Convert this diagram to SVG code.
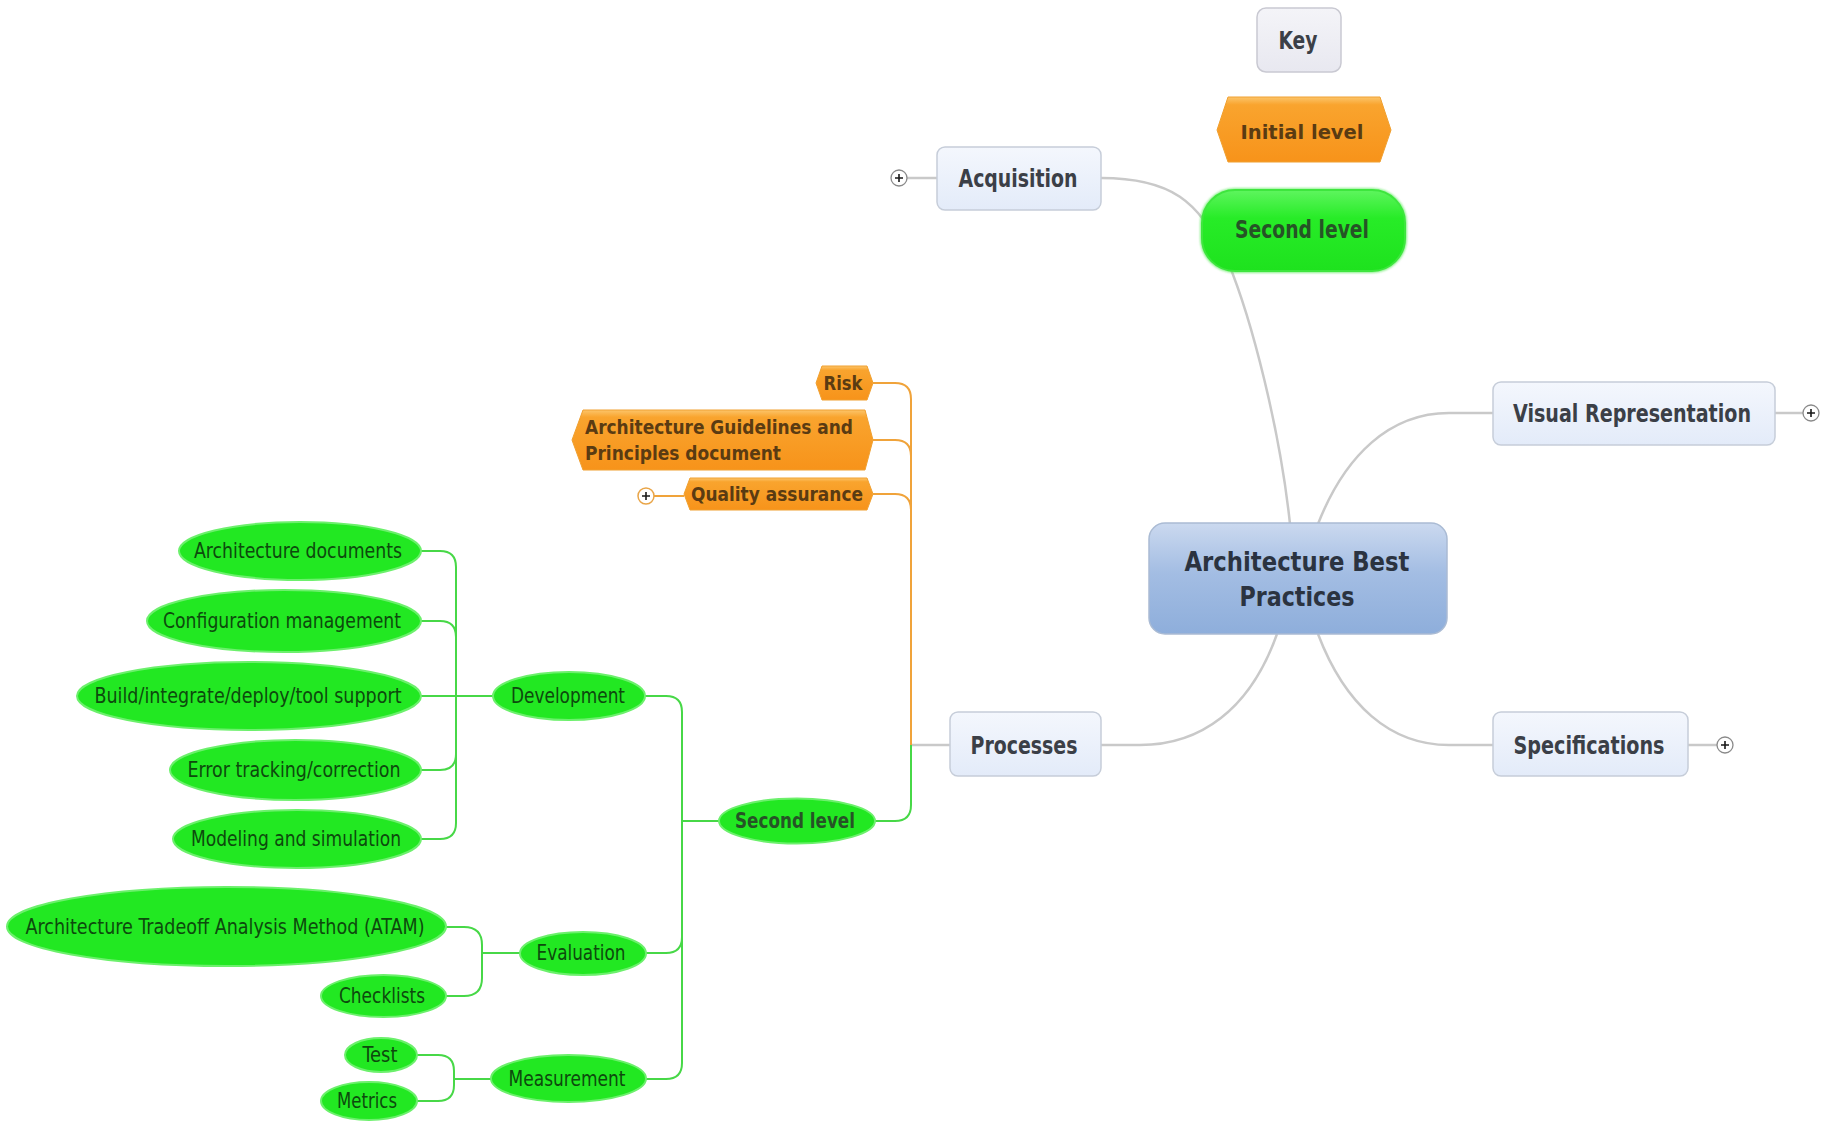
<svg xmlns="http://www.w3.org/2000/svg" width="1825" height="1125" viewBox="0 0 1825 1125">
<defs>
<linearGradient id="gBox" x1="0" y1="0" x2="0" y2="1"><stop offset="0" stop-color="#f4f7fd"/><stop offset="1" stop-color="#e3ebf9"/></linearGradient>
<linearGradient id="gKey" x1="0" y1="0" x2="0" y2="1"><stop offset="0" stop-color="#f4f4f8"/><stop offset="1" stop-color="#e8e8f0"/></linearGradient>
<linearGradient id="gCen" x1="0" y1="0" x2="0" y2="1"><stop offset="0" stop-color="#cbd9ef"/><stop offset="0.45" stop-color="#a3bde3"/><stop offset="1" stop-color="#8eaedb"/></linearGradient>
<linearGradient id="gOr" x1="0" y1="0" x2="0" y2="1"><stop offset="0" stop-color="#fcc56a"/><stop offset="0.12" stop-color="#f9a42e"/><stop offset="1" stop-color="#f7931a"/></linearGradient>
<linearGradient id="gGr" x1="0" y1="0" x2="0" y2="1"><stop offset="0" stop-color="#5ef55e"/><stop offset="0.35" stop-color="#27ec27"/><stop offset="1" stop-color="#1ee21e"/></linearGradient>
<filter id="glow" x="-10%" y="-20%" width="120%" height="140%"><feGaussianBlur stdDeviation="1.2"/></filter>
</defs>
<style>
.box{fill:url(#gBox);stroke:#c6cdd9;stroke-width:1.5}
.key{fill:url(#gKey);stroke:#c9c9d2;stroke-width:1.5}
.cen{fill:url(#gCen);stroke:#aabbd4;stroke-width:1.5}
.or{fill:url(#gOr);stroke:#f0a030;stroke-width:1}
.gr{fill:#22e822;stroke:#6cf06c;stroke-width:2}
.gbig{fill:url(#gGr);stroke:#3ee63e;stroke-width:2}
.t{font-family:"DejaVu Sans Condensed","DejaVu Sans",sans-serif;font-weight:bold;fill:#3b3f47;text-anchor:middle}
.tc{font-family:"DejaVu Sans Condensed","DejaVu Sans",sans-serif;font-weight:bold;fill:#2b3340;text-anchor:middle;font-size:26px}
.to{font-family:"DejaVu Sans Condensed","DejaVu Sans",sans-serif;font-weight:bold;fill:#5a3b12;font-size:20px}
.tg{font-family:"DejaVu Sans Condensed","DejaVu Sans",sans-serif;fill:#0d4a0d;text-anchor:middle;font-size:20.5px}
.tgb{font-family:"DejaVu Sans Condensed","DejaVu Sans",sans-serif;font-weight:bold;fill:#265326;text-anchor:middle}
.lg{fill:none;stroke:#c9c9c9;stroke-width:2.5}
.lo{fill:none;stroke:#f0a33a;stroke-width:2}
.lgr{fill:none;stroke:#47d847;stroke-width:2}
.pc{fill:#fff;stroke:#8a8a8a;stroke-width:1.3}
.pco{fill:#fff;stroke:#e9a548;stroke-width:1.5}
.pp{stroke:#1a1a1a;stroke-width:1.6}
</style>

<g id="connectors">
<path class="lg" d="M1101 178 C1170 178 1200 200 1228 262 C1252 320 1280 430 1290 524"/>
<path class="lg" d="M1318 524 C1345 455 1390 413 1449 413 H1493"/>
<path class="lg" d="M1318 634 C1345 705 1390 745 1449 745 H1493"/>
<path class="lg" d="M1277 634 C1250 710 1200 745 1140 745 H1101"/>
<path class="lg" d="M911 745 H950"/>
<path class="lg" d="M907 178 H937"/>
<path class="lg" d="M1775 413 H1803"/>
<path class="lg" d="M1688 745 H1717"/>
<path class="lo" d="M873 383 H895 Q911 383 911 399 V745"/>
<path class="lo" d="M873 440 H895 Q911 440 911 456 V745"/>
<path class="lo" d="M873 494 H895 Q911 494 911 510 V745"/>
<path class="lo" d="M654 496 H684"/>
<path class="lgr" d="M875 821 H895 Q911 821 911 805 V745"/>
<path class="lgr" d="M645 696 H666 Q682 696 682 712 V821 H719"/>
<path class="lgr" d="M646 953 H666 Q682 953 682 937 V821"/>
<path class="lgr" d="M646 1079 H666 Q682 1079 682 1063 V821"/>
<path class="lgr" d="M421 551 H440 Q456 551 456 567 V696 H493"/>
<path class="lgr" d="M421 621 H440 Q456 621 456 637 V696"/>
<path class="lgr" d="M421 696 H456"/>
<path class="lgr" d="M421 770 H440 Q456 770 456 754 V696"/>
<path class="lgr" d="M421 839 H440 Q456 839 456 823 V696"/>
<path class="lgr" d="M446 927 H464 Q482 927 482 945 V953 H520"/>
<path class="lgr" d="M446 996 H464 Q482 996 482 978 V953"/>
<path class="lgr" d="M417 1055 H438 Q454 1055 454 1071 V1079 H491"/>
<path class="lgr" d="M417 1101 H438 Q454 1101 454 1085 V1079"/>
</g>

<g id="key">
<rect class="key" x="1257" y="8" width="84" height="64" rx="9"/>
<text class="t" x="1298" y="49" font-size="24" textLength="39" lengthAdjust="spacingAndGlyphs">Key</text>
</g>
<g id="key-initial">
<path class="or" d="M1228 97 H1380 L1391 130 L1380 162 H1228 L1217 130 Z"/>
<text class="to" x="1302" y="139" font-size="24" text-anchor="middle" textLength="123" lengthAdjust="spacingAndGlyphs">Initial level</text>
</g>
<g id="key-second">
<rect class="gbig" x="1201" y="189" width="205" height="83" rx="34" filter="url(#glow)" opacity="0.6"/>
<rect class="gbig" x="1202" y="190" width="203" height="81" rx="33"/>
<text class="tgb" x="1302" y="238" font-size="24" textLength="134" lengthAdjust="spacingAndGlyphs">Second level</text>
</g>

<g id="central">
<rect class="cen" x="1149" y="523" width="298" height="111" rx="16"/>
<text class="tc" x="1297" y="571" textLength="225" lengthAdjust="spacingAndGlyphs">Architecture Best</text>
<text class="tc" x="1297" y="606" textLength="115" lengthAdjust="spacingAndGlyphs">Practices</text>
</g>

<g id="acquisition">
<rect class="box" x="937" y="147" width="164" height="63" rx="8"/>
<text class="t" x="1018" y="187" font-size="24" textLength="119" lengthAdjust="spacingAndGlyphs">Acquisition</text>
<circle class="pc" cx="899" cy="178" r="8"/>
<path class="pp" d="M895 178 H903 M899 174 V182"/>
</g>

<g id="visual">
<rect class="box" x="1493" y="382" width="282" height="63" rx="8"/>
<text class="t" x="1632" y="422" font-size="24" textLength="238" lengthAdjust="spacingAndGlyphs">Visual Representation</text>
<circle class="pc" cx="1811" cy="413" r="8"/>
<path class="pp" d="M1807 413 H1815 M1811 409 V417"/>
</g>

<g id="specifications">
<rect class="box" x="1493" y="712" width="195" height="64" rx="8"/>
<text class="t" x="1589" y="754" font-size="24" textLength="151" lengthAdjust="spacingAndGlyphs">Specifications</text>
<circle class="pc" cx="1725" cy="745" r="8"/>
<path class="pp" d="M1721 745 H1729 M1725 741 V749"/>
</g>

<g id="processes">
<rect class="box" x="950" y="712" width="151" height="64" rx="8"/>
<text class="t" x="1024" y="754" font-size="24" textLength="107" lengthAdjust="spacingAndGlyphs">Processes</text>
</g>

<g id="risk">
<path class="or" d="M822 366 H867 L873 383 L867 400 H822 L816 383 Z"/>
<text class="to" x="843" y="390" text-anchor="middle" textLength="39" lengthAdjust="spacingAndGlyphs">Risk</text>
</g>
<g id="guidelines">
<path class="or" d="M583 410 H865 L873 440 L865 470 H583 L572 440 Z"/>
<text class="to" x="585" y="434" textLength="268" lengthAdjust="spacingAndGlyphs">Architecture Guidelines and</text>
<text class="to" x="585" y="460" textLength="196" lengthAdjust="spacingAndGlyphs">Principles document</text>
</g>
<g id="quality">
<path class="or" d="M690 478 H867 L873 494 L867 510 H690 L684 494 Z"/>
<text class="to" x="777" y="501" text-anchor="middle" textLength="172" lengthAdjust="spacingAndGlyphs">Quality assurance</text>
<circle class="pco" cx="646" cy="496" r="8"/>
<path class="pp" d="M642 496 H650 M646 492 V500"/>
</g>

<g id="second-level">
<ellipse class="gr" cx="797" cy="821" rx="78" ry="22.5"/>
<text class="tgb" x="795" y="828" font-size="20.5" textLength="120" lengthAdjust="spacingAndGlyphs">Second level</text>
</g>

<g id="development">
<ellipse class="gr" cx="569" cy="696" rx="76" ry="24"/>
<text class="tg" x="568" y="703" textLength="114" lengthAdjust="spacingAndGlyphs">Development</text>
</g>
<g id="arch-docs">
<ellipse class="gr" cx="300" cy="551" rx="121" ry="29"/>
<text class="tg" x="298" y="558" textLength="208" lengthAdjust="spacingAndGlyphs">Architecture documents</text>
</g>
<g id="config">
<ellipse class="gr" cx="284" cy="621" rx="137" ry="31"/>
<text class="tg" x="282" y="628" textLength="238" lengthAdjust="spacingAndGlyphs">Configuration management</text>
</g>
<g id="build">
<ellipse class="gr" cx="249" cy="696" rx="172" ry="34"/>
<text class="tg" x="248" y="703" textLength="307" lengthAdjust="spacingAndGlyphs">Build/integrate/deploy/tool support</text>
</g>
<g id="error">
<ellipse class="gr" cx="295.5" cy="770" rx="125.5" ry="30"/>
<text class="tg" x="294" y="777" textLength="213" lengthAdjust="spacingAndGlyphs">Error tracking/correction</text>
</g>
<g id="modeling">
<ellipse class="gr" cx="297" cy="839" rx="124" ry="29"/>
<text class="tg" x="296" y="846" textLength="210" lengthAdjust="spacingAndGlyphs">Modeling and simulation</text>
</g>

<g id="evaluation">
<ellipse class="gr" cx="583" cy="953.5" rx="63" ry="21.5"/>
<text class="tg" x="581" y="960" textLength="89" lengthAdjust="spacingAndGlyphs">Evaluation</text>
</g>
<g id="atam">
<ellipse class="gr" cx="226.5" cy="926.5" rx="219.5" ry="39.5"/>
<text class="tg" x="225" y="934" textLength="399" lengthAdjust="spacingAndGlyphs">Architecture Tradeoff Analysis Method (ATAM)</text>
</g>
<g id="checklists">
<ellipse class="gr" cx="383.5" cy="996" rx="62.5" ry="21"/>
<text class="tg" x="382" y="1003" textLength="86" lengthAdjust="spacingAndGlyphs">Checklists</text>
</g>

<g id="measurement">
<ellipse class="gr" cx="568.5" cy="1078.5" rx="77.5" ry="23.5"/>
<text class="tg" x="567" y="1086" textLength="117" lengthAdjust="spacingAndGlyphs">Measurement</text>
</g>
<g id="test">
<ellipse class="gr" cx="381" cy="1055" rx="36" ry="17"/>
<text class="tg" x="380" y="1062" textLength="35" lengthAdjust="spacingAndGlyphs">Test</text>
</g>
<g id="metrics">
<ellipse class="gr" cx="369" cy="1101" rx="48" ry="19"/>
<text class="tg" x="367" y="1108" textLength="60" lengthAdjust="spacingAndGlyphs">Metrics</text>
</g>
</svg>
